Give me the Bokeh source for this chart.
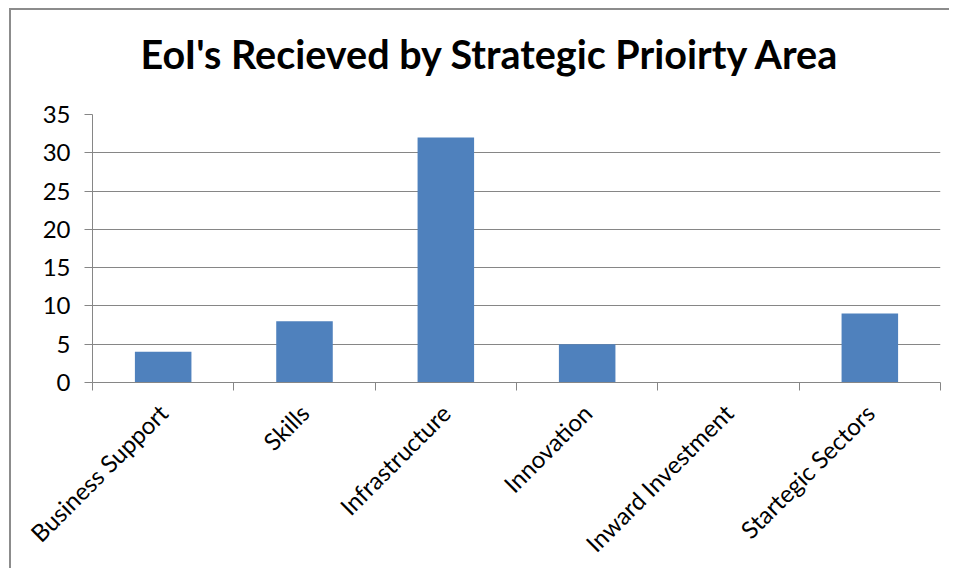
import math
from bokeh.plotting import figure
from bokeh.models import FixedTicker, Range1d, Title, InlineStyleSheet
from bokeh.embed import file_html
from bokeh.resources import INLINE

categories = ["Business Support", "Skills", "Infrastructure", "Innovation",
              "Inward Investment", "Startegic Sectors"]
values = [4, 8, 32, 5, 0, 9]
y_ticks = [0, 5, 10, 15, 20, 25, 30, 35]
title_text = "EoI's Recieved by Strategic Prioirty Area"

n = len(categories)
centers = [i + 0.5 for i in range(n)]
bounds = list(range(n + 1))

GRAY = "#868686"
FONT = "Lato"

p = figure(width=940, height=560, output_backend="svg", toolbar_location=None,
           x_range=Range1d(0, n), y_range=Range1d(0, y_ticks[-1]),
           min_border_left=81, min_border_right=11, min_border_top=104,
           min_border_bottom=187)
p.styles = {"margin-left": "11px", "margin-top": "10px"}
# chart-area border: only the left and top edges are visible in the original
p.stylesheets = [InlineStyleSheet(css=":host { box-shadow: -2px -2px 0 0 #8c8c8c; }")]
p.title = None

# spacer between title and plot area (nearest the frame)
p.add_layout(Title(text=" ", text_font=FONT, text_font_size="30px", standoff=0), "above")
p.add_layout(Title(text=title_text, align="left", offset=48, standoff=0,
                   text_font=FONT, text_font_size="39.5px", text_font_style="bold",
                   text_color="black"), "above")

p.vbar(x=centers, top=values, width=0.4, fill_color="#4F81BD", line_color=None)

p.outline_line_color = None
p.xgrid.grid_line_color = None
p.ygrid.grid_line_color = GRAY
p.ygrid.grid_line_width = 1

yax = p.yaxis[0]
yax.ticker = FixedTicker(ticks=y_ticks)
yax.axis_line_color = GRAY
yax.major_tick_line_color = GRAY
yax.major_tick_out = 8
yax.major_tick_in = 0
yax.minor_tick_line_color = None
yax.major_label_text_font = FONT
yax.major_label_text_font_size = "24px"
yax.major_label_text_color = "black"
yax.major_label_standoff = 14

xax = p.xaxis[0]
xax.ticker = FixedTicker(ticks=centers, minor_ticks=bounds)
xax.major_label_overrides = {c: cat for c, cat in zip(centers, categories)}
xax.axis_line_color = GRAY
xax.major_tick_out = 0
xax.major_tick_in = 0
xax.major_tick_line_color = None
xax.minor_tick_out = 8
xax.minor_tick_in = 0
xax.minor_tick_line_color = GRAY
xax.major_label_orientation = math.pi / 4
xax.major_label_text_font = FONT
xax.major_label_text_font_size = "24px"
xax.major_label_text_color = "black"
xax.major_label_standoff = 18

open("out.html", "w").write(file_html(p, INLINE))
